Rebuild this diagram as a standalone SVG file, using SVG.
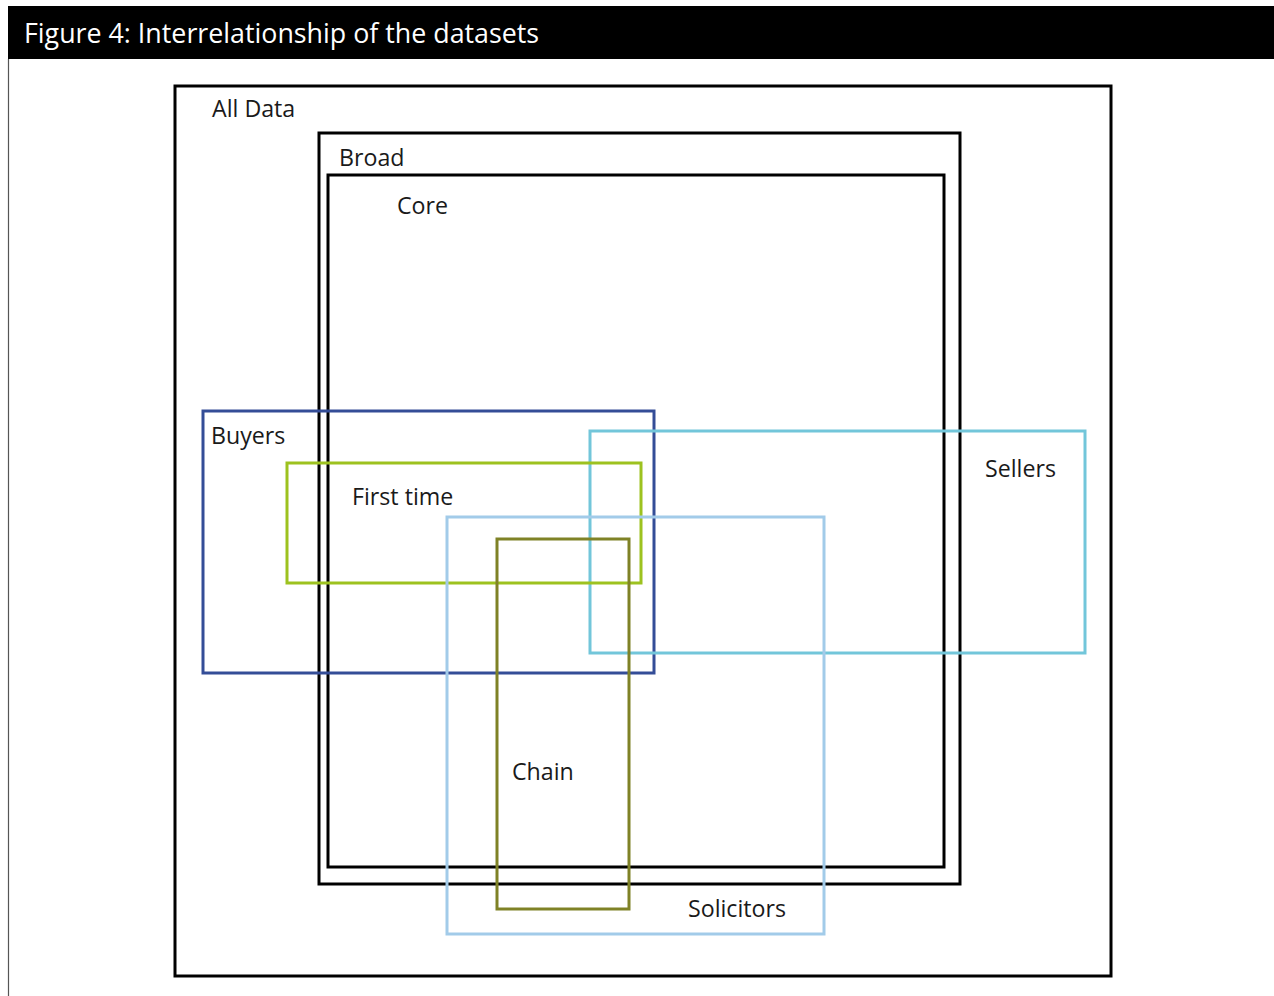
<svg xmlns="http://www.w3.org/2000/svg" width="1274" height="996" viewBox="0 0 1274 996">
<style>
text{font-family:"Open Sans","Noto Sans","Liberation Sans",sans-serif;font-size:23.2px;fill:#1a1a1a}
.title{fill:#ffffff;font-size:26.8px}
.box{fill:none;stroke-width:3}
.blk{stroke:#000000}
</style>
<rect x="0" y="0" width="1274" height="996" fill="#ffffff"/>
<g id="frame">
<rect x="8" y="6" width="1266" height="53" fill="#000000"/>
<line x1="8.5" y1="59" x2="8.5" y2="996" stroke="#555555" stroke-width="1.2"/>
<text class="title" x="24" y="43">Figure 4: Interrelationship of the datasets</text>
</g>
<g id="connectors"></g>
<g id="all-data">
<rect class="box blk" x="175" y="86" width="936" height="890"/>
<text x="212" y="117">All Data</text>
</g>
<g id="broad">
<rect class="box blk" x="319" y="133" width="641" height="751"/>
<text x="339" y="166">Broad</text>
</g>
<g id="core">
<rect class="box blk" x="328" y="175" width="616" height="692"/>
<text x="397" y="214">Core</text>
</g>
<g id="buyers">
<rect class="box" stroke="#344d97" x="203" y="411" width="451" height="262"/>
<text x="211" y="444">Buyers</text>
</g>
<g id="sellers">
<rect class="box" stroke="#72c6da" x="590" y="431" width="495" height="222"/>
<text x="985" y="477">Sellers</text>
</g>
<g id="first-time">
<rect class="box" stroke="#9dc21f" x="287" y="463" width="354" height="120"/>
<text x="352" y="505">First time</text>
</g>
<g id="solicitors">
<rect class="box" stroke="#a2cbe9" x="447" y="517" width="377" height="417"/>
<text x="688" y="917">Solicitors</text>
</g>
<g id="chain">
<rect class="box" stroke="#7f8226" x="497" y="539" width="132" height="370"/>
<text x="512" y="780">Chain</text>
</g>
</svg>
